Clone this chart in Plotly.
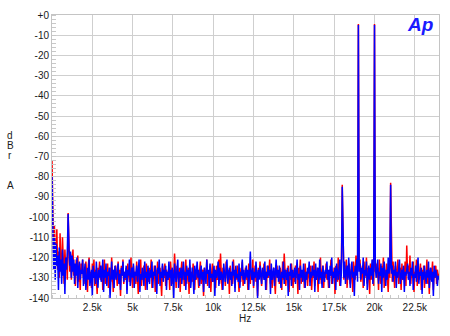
import plotly.graph_objects as go

# FFT bin spacing (Hz); bins start at 0 Hz
BIN_HZ = 50

red_dbr = [
    -72, -112, -118, -104, -121, -115, -106, -126, -117, -130, -108, -122, -128, -110, -119, -133, -116, -125, -121, -131,
    -98, -120, -127, -118, -131, -122, -116, -129, -124, -134, -121, -127, -119, -132, -125, -136, -123, -128, -121, -130,
    -126, -133, -122, -129, -137, -124, -120, -131, -127, -135, -123, -129, -121, -134, -126, -130, -138, -125, -128, -122,
    -131, -127, -124, -136, -129, -121, -133, -126, -130, -123, -135, -128, -125, -132, -120, -129, -137, -126, -131, -124,
    -128, -134, -122, -130, -126, -139, -124, -129, -121, -133, -127, -131, -125, -136, -123, -128, -132, -126, -120, -130,
    -135, -124, -129, -127, -133, -122, -130, -138, -125, -128, -121, -134, -127, -131, -124, -129, -136, -123, -130, -126,
    -132, -125, -128, -121, -135, -127, -130, -124, -137, -126, -129, -122, -133, -128, -125, -131, -139, -124, -127, -130,
    -123, -134, -126, -129, -131, -125, -136, -122, -128, -133, -126, -130, -118, -127, -135, -124, -129, -132, -125, -137,
    -127, -122, -131, -126, -134, -129, -121, -133, -128, -125, -138, -124, -130, -127, -132, -123, -129, -136, -126, -131,
    -124, -130, -135, -127, -122, -133, -128, -126, -139, -125, -131, -129, -121, -134, -127, -130, -124, -137, -128, -123,
    -132, -126, -129, -135, -124, -131, -127, -121, -133, -118, -128, -136, -125, -130, -127, -134, -122, -129, -131, -126,
    -138, -124, -130, -127, -133, -121, -128, -135, -126, -131, -124, -129, -137, -125, -132, -127, -122, -134, -128, -130,
    -125, -131, -127, -136, -123, -129, -133, -126, -130, -121, -135, -128, -124, -132, -127, -139, -125, -130, -122, -128,
    -134, -126, -129, -123, -131, -127, -136, -124, -130, -128, -121, -133, -126, -135, -129, -125, -131, -138, -127, -124,
    -130, -127, -133, -125, -129, -136, -122, -131, -118, -128, -134, -126, -130, -124, -137, -128, -131, -123, -129, -135,
    -126, -132, -124, -130, -127, -138, -125, -129, -121, -133, -128, -131, -126, -135, -123, -130, -127, -134, -125, -129,
    -132, -124, -136, -128, -130, -122, -134, -127, -129, -125, -137, -126, -131, -120, -133, -128, -124, -135, -127, -130,
    -123, -131, -128, -135, -126, -129, -121, -133, -127, -130, -125, -138, -124, -129, -132, -120, -128, -134, -126, -122,
    -84, -127, -131, -124, -129, -121, -135, -126, -130, -123, -133, -128, -125, -137, -122, -129, -131, -119, -127, -124,
    -4.5, -126, -121, -132, -128, -124, -135, -122, -130, -127, -120, -133, -125, -129, -138, -123, -131, -126, -121, -134,
    -4.5, -127, -123, -130, -125, -136, -121, -129, -133, -124, -128, -120, -135, -126, -131, -123, -129, -137, -125, -130,
    -83, -126, -132, -122, -129, -135, -124, -130, -127, -121, -133, -128, -125, -136, -123, -131, -127, -129, -122, -134,
    -114, -128, -124, -131, -119, -133, -126, -130, -122, -137, -127, -129, -121, -134, -125, -131, -128, -123, -136, -126,
    -130, -124, -135, -127, -129, -121, -133, -126, -138, -125, -131, -128, -122, -136, -127, -130, -124, -133, -126, -129,
    -128,
]

blue_dbr = [
    -80, -118, -126, -110, -131, -113, -124, -119, -136, -115, -127, -121, -133, -116, -129, -123, -138, -120, -126, -117,
    -98.5, -115, -124, -117, -130, -119, -127, -121, -133, -123, -129, -120, -135, -125, -122, -131, -126, -128, -121, -134,
    -127, -123, -136, -129, -125, -131, -121, -134, -128, -126, -139, -124, -130, -127, -133, -122, -129, -135, -126, -130,
    -124, -132, -128, -121, -137, -126, -130, -123, -134, -127, -129, -125, -140, -128, -122, -131, -126, -135, -124, -129,
    -131, -126, -123, -133, -128, -136, -125, -129, -122, -132, -127, -130, -124, -138, -126, -129, -121, -134, -128, -125,
    -130, -123, -135, -127, -129, -124, -132, -126, -121, -137, -128, -131, -125, -129, -134, -122, -130, -127, -136, -124,
    -128, -133, -126, -130, -122, -135, -127, -129, -124, -131, -138, -125, -128, -121, -134, -127, -130, -123, -132, -126,
    -129, -124, -136, -127, -131, -122, -130, -126, -134, -125, -129, -140, -123, -128, -132, -126, -121, -135, -127, -130,
    -125, -133, -128, -122, -131, -127, -136, -124, -129, -126, -132, -121, -135, -128, -125, -130, -138, -124, -131, -127,
    -122, -130, -126, -134, -128, -124, -131, -127, -137, -125, -129, -133, -121, -128, -126, -135, -123, -130, -128, -132,
    -127, -124, -139, -126, -130, -128, -122, -134, -125, -131, -127, -129, -136, -123, -128, -132, -126, -121, -133, -129,
    -125, -131, -127, -134, -122, -129, -126, -137, -124, -130, -128, -132, -123, -135, -127, -129, -121, -131, -126, -133,
    -128, -124, -130, -126, -136, -123, -117, -129, -131, -125, -134, -127, -130, -122, -128, -140, -126, -131, -124, -129,
    -133, -125, -128, -131, -122, -136, -127, -130, -124, -129, -126, -138, -123, -131, -128, -125, -134, -127, -121, -130,
    -126, -132, -124, -129, -135, -127, -130, -122, -133, -126, -128, -131, -125, -139, -127, -129, -123, -134, -126, -130,
    -129, -125, -133, -127, -121, -131, -128, -136, -124, -130, -126, -132, -123, -129, -135, -127, -131, -125, -128, -122,
    -134, -127, -130, -124, -129, -126, -137, -123, -131, -128, -125, -133, -121, -130, -127, -135, -124, -129, -132, -126,
    -128, -122, -131, -126, -135, -124, -129, -120, -133, -127, -130, -125, -136, -123, -128, -131, -126, -121, -134, -127,
    -85, -125, -130, -122, -133, -127, -124, -131, -120, -128, -135, -126, -122, -130, -127, -139, -124, -129, -121, -132,
    -5, -127, -123, -131, -125, -128, -120, -134, -126, -129, -122, -136, -127, -124, -131, -125, -129, -121, -133, -126,
    -5, -124, -130, -126, -121, -133, -127, -129, -123, -137, -125, -130, -122, -128, -134, -126, -131, -120, -128, -125,
    -84, -128, -124, -132, -126, -129, -122, -135, -127, -130, -125, -121, -133, -128, -126, -131, -124, -137, -127, -129,
    -126, -123, -131, -127, -134, -125, -129, -122, -136, -128, -130, -124, -132, -126, -120, -133, -127, -129, -125, -138,
    -127, -131, -124, -129, -133, -126, -130, -122, -135, -128, -125, -132, -127, -139, -124, -130, -126, -128, -134, -129,
    -131,
]

x_tick_vals = [2500, 5000, 7500, 10000, 12500, 15000, 17500, 20000, 22500]
x_tick_text = ["2.5k", "5k", "7.5k", "10k", "12.5k", "15k", "17.5k", "20k", "22.5k"]
y_tick_vals = [0, -10, -20, -30, -40, -50, -60, -70, -80, -90, -100, -110, -120, -130, -140]
y_tick_text = ["+0"] + [str(v) for v in y_tick_vals[1:]]

freq_red = [i * BIN_HZ for i in range(len(red_dbr))]
freq_blue = [i * BIN_HZ for i in range(len(blue_dbr))]

fig = go.Figure()
fig.add_trace(go.Scatter(x=freq_red, y=red_dbr, mode="lines",
                         line=dict(color="#ff0000", width=1.5), showlegend=False))
fig.add_trace(go.Scatter(x=freq_blue, y=blue_dbr, mode="lines",
                         line=dict(color="#0000ff", width=1.5), showlegend=False))

font = dict(family="Liberation Sans, Arial, sans-serif", size=10, color="#1a1a1a")

fig.update_layout(
    width=450, height=336,
    margin=dict(l=52, r=11, t=9, b=38),
    paper_bgcolor="white", plot_bgcolor="white",
    font=font,
    xaxis=dict(range=[0, 24000], tickvals=x_tick_vals, ticktext=x_tick_text,
               showgrid=True, gridcolor="#cfcfcf", gridwidth=1,
               zeroline=False, showline=True, linecolor="#c4c4c4", mirror=True,
               ticks="", ticklen=0,
               minor=dict(dtick=500, ticks="inside", ticklen=3, tickcolor="#c8c8c8", showgrid=False),
               tickfont=font),
    yaxis=dict(range=[-140, 0], tickvals=y_tick_vals, ticktext=y_tick_text,
               showgrid=True, gridcolor="#cfcfcf", gridwidth=1,
               zeroline=False, showline=True, linecolor="#c4c4c4", mirror=True,
               ticks="", ticklen=0,
               minor=dict(dtick=2, ticks="inside", ticklen=4, tickcolor="#c8c8c8", showgrid=False),
               tickfont=font),
)

annots = [
    dict(text="d", x=10, y=132),
    dict(text="B", x=10, y=142),
    dict(text="r", x=10, y=152),
    dict(text="A", x=10, y=183),
    dict(text="Hz", x=245, y=319),
]
for a in annots:
    fig.add_annotation(text=a["text"], xref="paper", yref="paper",
                       x=(a["x"] - 52) / 387, y=1 - (a["y"] - 9) / 289,
                       showarrow=False, xanchor="center", yanchor="middle",
                       font=font)

fig.add_annotation(text="<b><i>Ap</i></b>", xref="paper", yref="paper",
                   x=(420 - 52) / 387, y=1 - (19 - 9) / 289,
                   showarrow=False, xanchor="center", yanchor="middle",
                   font=dict(family="Liberation Sans, Arial, sans-serif", size=19, color="#1a1aff"))

fig.write_html("out.html")
